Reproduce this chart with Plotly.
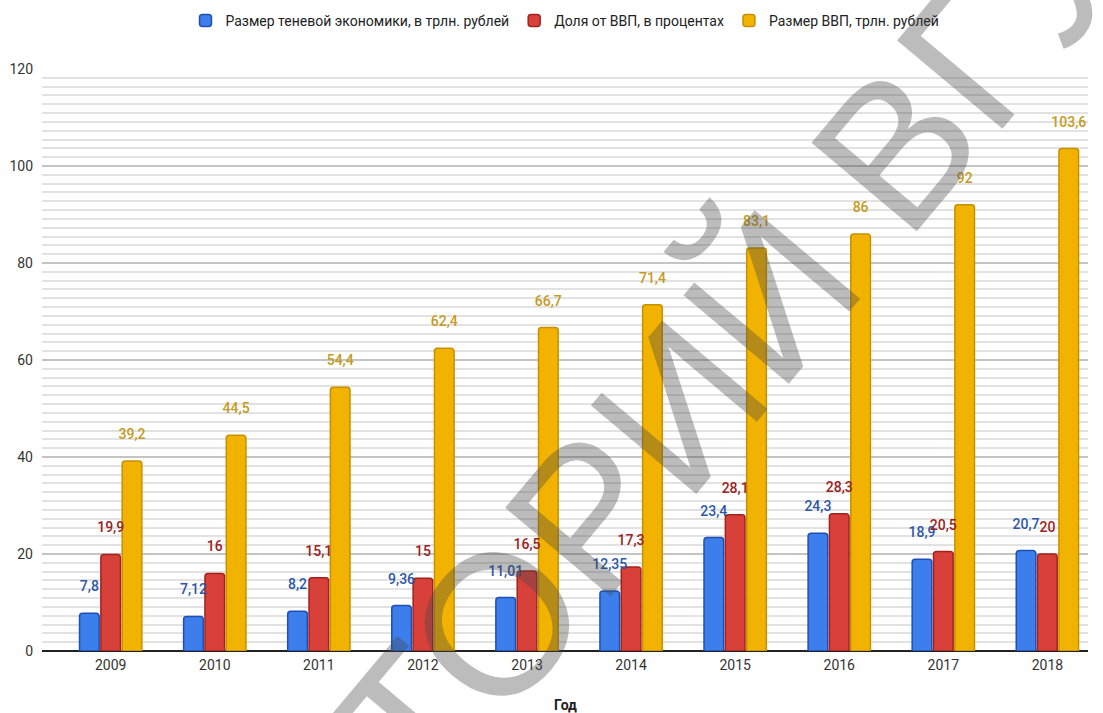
import plotly.graph_objects as go

years = ["2009", "2010", "2011", "2012", "2013", "2014", "2015", "2016", "2017", "2018"]
shadow_economy = [7.8, 7.12, 8.2, 9.36, 11.01, 12.35, 23.4, 24.3, 18.9, 20.7]
share_gdp = [19.9, 16, 15.1, 15, 16.5, 17.3, 28.1, 28.3, 20.5, 20]
gdp_size = [39.2, 44.5, 54.4, 62.4, 66.7, 71.4, 83.1, 86, 92, 103.6]

series_names = [
    "Размер теневой экономики, в трлн. рублей",
    "Доля от ВВП, в процентах",
    "Размер ВВП, трлн. рублей",
]
y_ticks = [0, 20, 40, 60, 80, 100, 120]
x_title = "Год"
watermark = "РЕПОЗИТОРИЙ ВГУ"


def fmt(v):
    return f"{v:g}".replace(".", ",")


fills = ["#3c7eec", "#d8403a", "#f2b300"]
edges = ["#1d4fb5", "#a3221c", "#c79000"]
label_colors = ["#2d58a9", "#9b2222", "#c59b21"]

fig = go.Figure()
all_series = [shadow_economy, share_gdp, gdp_size]
for i, vals in enumerate(all_series):
    fig.add_trace(go.Bar(
        x=years, y=vals, name=series_names[i],
        marker=dict(color=fills[i], line=dict(color=edges[i], width=1.5)),
        hoverinfo="skip",
    ))
for i, vals in enumerate(all_series):
    fig.add_trace(go.Scatter(
        x=years, y=vals, mode="markers+text",
        text=[fmt(v) for v in vals], textposition="top center",
        textfont=dict(family="Roboto", size=14, color=label_colors[i], weight=500),
        marker=dict(size=28, color="rgba(0,0,0,0)"),
        showlegend=False, hoverinfo="skip", cliponaxis=False,
    ))

fig.update_layout(
    width=1103, height=713,
    margin=dict(l=42, r=15, t=69, b=62, autoexpand=False),
    paper_bgcolor="white", plot_bgcolor="white",
    barmode="group", bargap=0.385, bargroupgap=0.08,
    scattermode="group", scattergap=0.385,
    barcornerradius=3,
    font=dict(family="Roboto", size=14, color="#333333"),
    showlegend=True,
    legend=dict(orientation="h", x=0.5, xanchor="center", y=0.993, yanchor="top",
                yref="container", font=dict(size=14, color="#222222"),
                tracegroupgap=0),
    xaxis=dict(
        range=[-0.66, 9.39], showgrid=False, ticks="",
        tickfont=dict(size=14, color="#333333"), ticklabelstandoff=4,
        showline=False, zeroline=False, automargin=False,
    ),
    yaxis=dict(
        range=[0, 120], tickvals=y_ticks, ticktext=[str(t) for t in y_ticks],
        showgrid=True, gridcolor="#c4c4c4", gridwidth=2,
        minor=dict(dtick=20 / 11, tick0=0, showgrid=True, gridcolor="#e2e2e2", gridwidth=1.5),
        zeroline=True, zerolinecolor="#222222", zerolinewidth=2,
        tickfont=dict(size=14, color="#333333"), ticklabelstandoff=8, automargin=False,
    ),
)

fig.add_annotation(
    text="<b>" + x_title + "</b>", x=0.5, y=-0.0928, xref="paper", yref="paper",
    xanchor="center", yanchor="middle", showarrow=False,
    font=dict(family="Roboto", size=14, color="#222222"),
)

fig.add_annotation(
    text=watermark, x=0.405, y=-0.0155,
    xref="paper", yref="paper", xanchor="center", yanchor="middle",
    showarrow=False, textangle=-50,
    font=dict(family="Liberation Sans", size=200, color="rgba(70,70,70,0.36)"),
)

fig.write_html("out.html")
